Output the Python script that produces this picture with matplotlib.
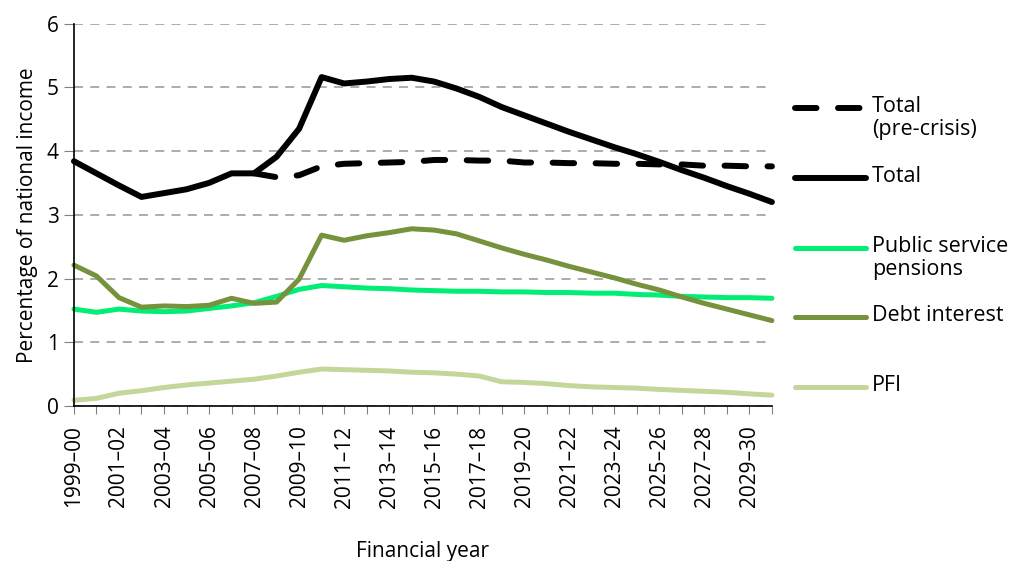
import matplotlib.pyplot as plt
from matplotlib.lines import Line2D

plt.rcParams['font.family'] = ['Open Sans', 'DejaVu Sans']

# Financial years 1999-00 .. 2030-31
years = [f"{y}\u2013{str(y + 1)[-2:]}" for y in range(1999, 2031)]

total = [3.84, 3.65, 3.46, 3.28, 3.34, 3.40, 3.50, 3.65, 3.65, 3.91, 4.35,
         5.16, 5.06, 5.09, 5.13, 5.15, 5.09, 4.98, 4.85, 4.69, 4.56, 4.43,
         4.30, 4.18, 4.06, 3.95, 3.83, 3.70, 3.58, 3.45, 3.33, 3.20]
# pre-crisis projection starts in 2007-08
pre_crisis_start = 8
total_pre_crisis = [3.65, 3.59, 3.62, 3.76, 3.80, 3.81, 3.82, 3.83, 3.86,
                    3.86, 3.85, 3.85, 3.82, 3.82, 3.81, 3.81, 3.80, 3.80,
                    3.79, 3.79, 3.77, 3.77, 3.76, 3.76]
pensions = [1.52, 1.47, 1.52, 1.49, 1.48, 1.49, 1.53, 1.57, 1.62, 1.72, 1.83,
            1.89, 1.87, 1.85, 1.84, 1.82, 1.81, 1.80, 1.80, 1.79, 1.79, 1.78,
            1.78, 1.77, 1.77, 1.75, 1.74, 1.72, 1.71, 1.70, 1.70, 1.69]
debt_interest = [2.21, 2.04, 1.70, 1.55, 1.57, 1.56, 1.58, 1.69, 1.61, 1.63,
                 1.99, 2.68, 2.60, 2.67, 2.72, 2.78, 2.76, 2.70, 2.59, 2.48,
                 2.38, 2.29, 2.19, 2.10, 2.01, 1.91, 1.82, 1.71, 1.61, 1.52,
                 1.43, 1.34]
pfi = [0.09, 0.12, 0.20, 0.24, 0.29, 0.33, 0.36, 0.39, 0.42, 0.47, 0.53, 0.58,
       0.57, 0.56, 0.55, 0.53, 0.52, 0.50, 0.47, 0.38, 0.37, 0.35, 0.32, 0.30,
       0.29, 0.28, 0.26, 0.245, 0.23, 0.215, 0.19, 0.17]

c_black = "#000000"
c_pens = "#00EE76"
c_debt = "#76923C"
c_pfi = "#C4D79B"

fig = plt.figure(figsize=(10.13, 5.61), dpi=100)
ax = fig.add_axes([0.073, 0.2763, 0.689, 0.6817])

x = list(range(len(years)))
kw = dict(solid_capstyle="round", dash_capstyle="round", clip_on=False)
ax.plot(x, pfi, color=c_pfi, lw=3.6, **kw)
ax.plot(x, pensions, color=c_pens, lw=3.6, **kw)
ax.plot(x, debt_interest, color=c_debt, lw=3.6, **kw)
ax.plot(x[pre_crisis_start:], total_pre_crisis, color=c_black, lw=4.3,
        dashes=(3.6, 3.6), **kw)
ax.plot(x, total, color=c_black, lw=4.3, **kw)

ax.set_xlim(0, len(years) - 1)
ax.set_ylim(0, 6)
ax.set_yticks(range(7))
ax.set_xticks(x)
ax.set_xticklabels([y if i % 2 == 0 else "" for i, y in enumerate(years)],
                   rotation=90)
ax.tick_params(axis="x", length=6, color="#808080", labelsize=15, pad=8)
ax.tick_params(axis="y", length=7, color="#808080", labelsize=15, pad=4)
ax.yaxis.grid(True, linestyle=(0, (5, 4)), color="#A6A6A6", lw=1.3)
ax.set_axisbelow(True)
for s in ["top", "right"]:
    ax.spines[s].set_visible(False)
ax.spines["left"].set_linewidth(1.2)
ax.spines["bottom"].set_linewidth(1.2)

ax.set_ylabel("Percentage of national income", fontsize=15, labelpad=6)
ax.set_xlabel("Financial year", fontsize=15, labelpad=24)

# legend drawn by hand on the right
entries = [("Total\n(pre-crisis)", c_black, 4.3, True, 108),
           ("Total", c_black, 4.3, False, 178),
           ("Public service\npensions", c_pens, 3.6, False, 248),
           ("Debt interest", c_debt, 3.6, False, 317),
           ("PFI", c_pfi, 3.6, False, 387)]
W, H = 1013, 561
for label, col, lw, dashed, ypix in entries:
    yf = 1 - ypix / H
    ln = Line2D([795 / W, 866 / W], [yf, yf], transform=fig.transFigure,
                color=col, lw=lw, solid_capstyle="round",
                dash_capstyle="round")
    if dashed:
        ln.set_dashes((3.6, 3.6))
    fig.add_artist(ln)
    fig.text(872 / W, yf + 12 / H, label, fontsize=15.5, va="top", ha="left",
             linespacing=1.1)

fig.savefig("out.png", dpi=100)
